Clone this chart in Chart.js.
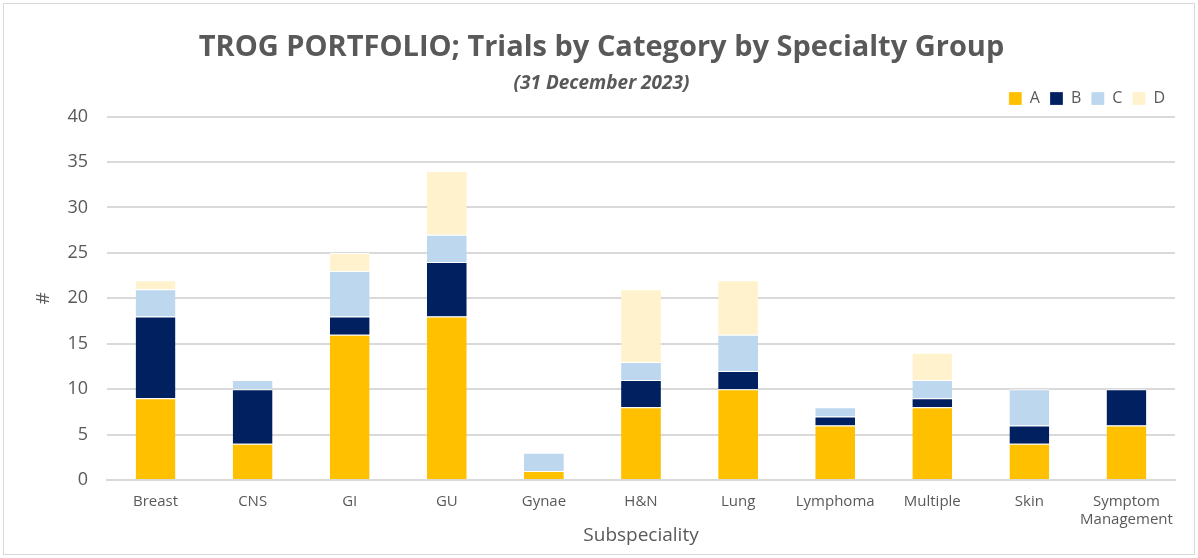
<!DOCTYPE html>
<html>
<head>
<meta charset="utf-8">
<script src="https://cdn.jsdelivr.net/npm/chart.js@4"></script>
<style>
    html, body { margin: 0; padding: 0; background: #fff; }
    #wrap { position: relative; width: 1198px; height: 558px; }
    #frame { position: absolute; left: 3px; top: 3px; width: 1192px; height: 552px; border: 1px solid #d9d9d9; box-sizing: border-box; }
</style>
</head>
<body>
<div id="wrap">
    <div id="frame"></div>
    <canvas id="trogChart" width="1198" height="558"></canvas>
</div>
<script>
const categories = ['Breast', 'CNS', 'GI', 'GU', 'Gynae', 'H&N', 'Lung', 'Lymphoma', 'Multiple', 'Skin', ['Symptom', 'Management']];
const catA = [9, 4, 16, 18, 1, 8, 10, 6, 8, 4, 6];
const catB = [9, 6, 2, 6, 0, 3, 2, 1, 1, 2, 4];
const catC = [3, 1, 5, 3, 2, 2, 4, 1, 2, 4, 0];
const catD = [1, 0, 2, 7, 0, 8, 6, 0, 3, 0, 0];

const fontFamily = "'Open Sans', 'Liberation Sans', sans-serif";
const textGrey = '#595959';

const makeSet = (label, data, color) => ({
    label: label,
    data: data,
    backgroundColor: color,
    borderColor: '#ffffff',
    borderWidth: { top: 1, bottom: 0, left: 0, right: 0 },
    borderSkipped: false,
    barPercentage: 0.41,
    categoryPercentage: 1.0,
});

new Chart(document.getElementById('trogChart'), {
    type: 'bar',
    data: {
        labels: categories,
        datasets: [
            makeSet('A', catA, '#ffc000'),
            makeSet('B', catB, '#002060'),
            makeSet('C', catC, '#bdd7ee'),
            makeSet('D', catD, '#fff2cc'),
        ],
    },
    options: {
        responsive: false,
        animation: false,
        layout: { padding: { top: 30, left: 28, right: 23, bottom: 11 } },
        plugins: {
            title: {
                display: true,
                text: 'TROG PORTFOLIO; Trials by Category by Specialty Group',
                color: textGrey,
                font: { family: fontFamily, size: 29, weight: 'bold' },
                padding: { top: 0, bottom: 7 },
            },
            subtitle: {
                display: true,
                text: '(31 December 2023)',
                color: textGrey,
                font: { family: fontFamily, size: 19, weight: 'bold', style: 'italic' },
                padding: { top: 0, bottom: -14 },
            },
            legend: {
                position: 'top',
                align: 'end',
                labels: {
                    color: textGrey,
                    font: { family: fontFamily, size: 16 },
                    boxWidth: 13,
                    boxHeight: 13,
                    padding: 10,
                },
            },
            tooltip: { enabled: false },
        },
        scales: {
            x: {
                stacked: true,
                afterFit: (scale) => { scale.height = 67; },
                grid: { display: false },
                border: { display: true, color: '#d9d9d9', width: 2 },
                ticks: { color: textGrey, font: { family: fontFamily, size: 15 }, maxRotation: 0, padding: 5 },
                title: { display: true, text: 'Subspeciality', color: textGrey, font: { family: fontFamily, size: 19 }, padding: { top: 2, bottom: 0 } },
            },
            y: {
                stacked: true,
                min: 0,
                max: 40,
                afterFit: (scale) => { scale.width = 79; },
                ticks: { stepSize: 5, color: textGrey, font: { family: fontFamily, size: 18 }, padding: 19 },
                grid: { color: '#d9d9d9', lineWidth: 2, drawTicks: false },
                border: { display: false },
                title: { display: true, text: '#', color: textGrey, font: { family: fontFamily, size: 19 } },
            },
        },
    },
});
</script>
</body>
</html>
